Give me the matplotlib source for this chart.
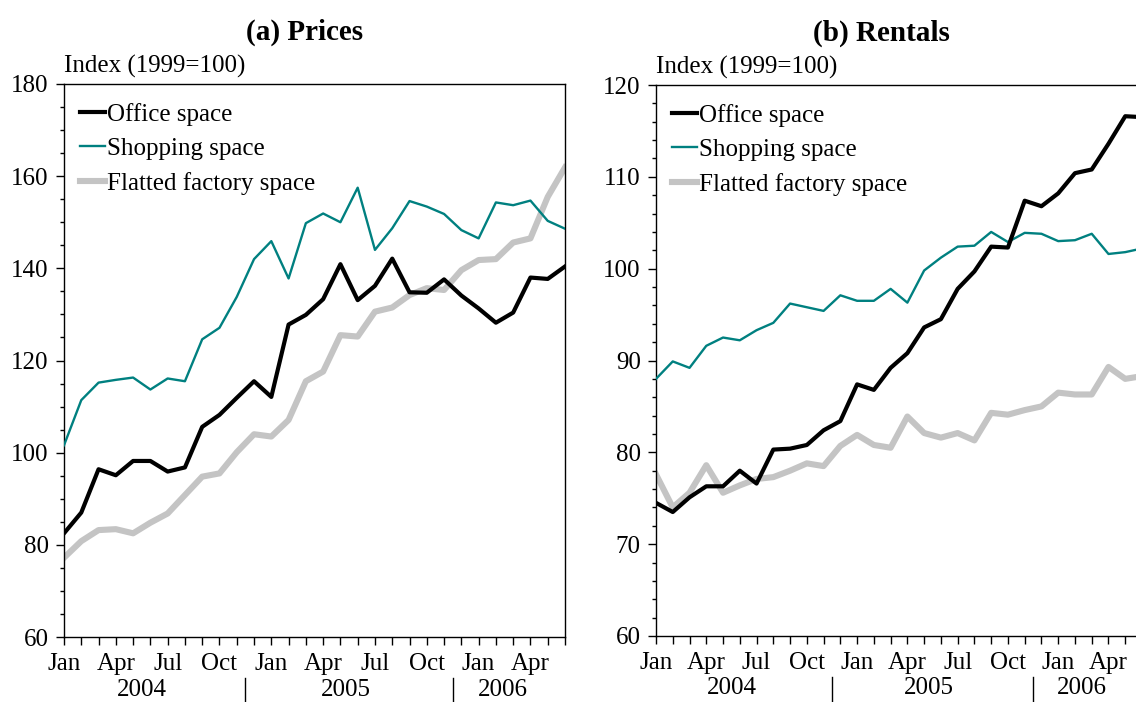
import numpy as np
import matplotlib
matplotlib.use("Agg")
import matplotlib.pyplot as plt
from matplotlib.ticker import MultipleLocator, FixedLocator

matplotlib.rcParams['font.family'] = ['Liberation Serif', 'DejaVu Serif']
matplotlib.rcParams['font.size'] = 18

# monthly data, Jan 2004 - Jun 2006
month_names = ["Jan", "Apr", "Jul", "Oct"]
years = ["2004", "2005", "2006"]

prices_office = [82.5, 87.0, 96.4, 95.1, 98.2, 98.2, 95.9, 96.8, 105.6, 108.2,
                 111.9, 115.5, 112.1, 127.8, 129.9, 133.3, 140.9, 133.1, 136.2, 142.1,
                 134.8, 134.7, 137.6, 134.1, 131.3, 128.2, 130.4, 138.0, 137.7, 140.4]
prices_shopping = [101.6, 111.4, 115.2, 115.8, 116.3, 113.7, 116.1, 115.5, 124.6, 127.1,
                   133.8, 142.0, 145.9, 137.8, 149.8, 151.9, 150.0, 157.5, 144.0, 148.7,
                   154.6, 153.4, 151.8, 148.3, 146.5, 154.3, 153.7, 154.7, 150.3, 148.6]
prices_factory = [77.2, 80.8, 83.2, 83.4, 82.5, 84.8, 86.8, 90.8, 94.8, 95.5,
                  100.1, 104.0, 103.5, 107.1, 115.5, 117.6, 125.5, 125.2, 130.6, 131.5,
                  134.2, 135.7, 135.3, 139.6, 141.8, 142.0, 145.6, 146.5, 155.5, 161.9]

rent_office = [74.5, 73.5, 75.1, 76.3, 76.3, 78.0, 76.6, 80.3, 80.4, 80.8,
               82.4, 83.4, 87.4, 86.8, 89.2, 90.8, 93.6, 94.5, 97.8, 99.7,
               102.4, 102.3, 107.4, 106.8, 108.2, 110.4, 110.8, 113.6, 116.6, 116.5]
rent_shopping = [88.0, 89.9, 89.2, 91.6, 92.5, 92.2, 93.3, 94.1, 96.2, 95.8,
                 95.4, 97.1, 96.5, 96.5, 97.8, 96.3, 99.8, 101.2, 102.4, 102.5,
                 104.0, 102.9, 103.9, 103.8, 103.0, 103.1, 103.8, 101.6, 101.8, 102.2]
rent_factory = [77.6, 74.0, 75.6, 78.6, 75.6, 76.4, 77.1, 77.3, 78.0, 78.8,
                78.5, 80.7, 81.9, 80.8, 80.5, 83.9, 82.1, 81.6, 82.1, 81.3,
                84.3, 84.1, 84.6, 85.0, 86.5, 86.3, 86.3, 89.3, 88.0, 88.3]

t = np.arange(len(prices_office))

TEAL = "#008080"
GREY = "#c4c4c4"

fig = plt.figure(figsize=(11.36, 7.02), dpi=100)
ax1 = fig.add_axes([64/1136, 65/702, 501/1136, 553/702])
ax2 = fig.add_axes([656/1136, 66/702, 486/1136, 551/702])


def draw_panel(ax, office, shopping, factory, title, title_x, ylim, major, minor):
    l3, = ax.plot(t, factory, color=GREY, lw=4.4, zorder=2)
    l2, = ax.plot(t, shopping, color=TEAL, lw=1.7, zorder=3)
    l1, = ax.plot(t, office, color="black", lw=3.0, zorder=4)
    ax.legend([l1, l2, l3], ["Office space", "Shopping space", "Flatted factory space"],
              loc="upper left", bbox_to_anchor=(0.032, 0.966), frameon=False,
              borderpad=0, borderaxespad=0, handlelength=1.0, handletextpad=0.08,
              labelspacing=0.47)

    ax.set_xlim(0, 29)
    ax.set_ylim(*ylim)
    ax.yaxis.set_major_locator(MultipleLocator(major))
    ax.yaxis.set_minor_locator(MultipleLocator(minor))
    ax.tick_params(axis="y", which="major", direction="out", length=6, width=1, pad=5)
    ax.tick_params(axis="y", which="minor", direction="out", length=3, width=1)

    # a tick every month, labels every quarter
    ax.xaxis.set_major_locator(FixedLocator(np.arange(0, 30, 3)))
    ax.xaxis.set_minor_locator(FixedLocator(np.arange(0, 30, 1)))
    ax.set_xticklabels([month_names[i % 4] for i in range(10)])
    ax.tick_params(axis="x", which="both", direction="out", length=5.5, width=1, pad=6)

    for sp in ax.spines.values():
        sp.set_linewidth(1.0)

    # year labels and separators below the month labels
    trans = ax.get_xaxis_transform()
    for x, yr in zip([4.5, 16.3, 25.4], years):
        ax.text(x, -0.095, yr, transform=trans, ha="center", va="center")
    for x in [10.5, 22.5]:
        ax.plot([x, x], [-0.074, -0.13], transform=trans, color="black", lw=1,
                clip_on=False)

    ax.annotate("Index (1999=100)", xy=(0, 1), xycoords="axes fraction",
                xytext=(0, 8), textcoords="offset points", ha="left", va="baseline")
    ax.set_title(title, fontsize=21, fontweight="bold", x=title_x, pad=32)


draw_panel(ax1, prices_office, prices_shopping, prices_factory,
           "(a) Prices", 0.48, (60, 180), 20, 5)
draw_panel(ax2, rent_office, rent_shopping, rent_factory,
           "(b) Rentals", 0.463, (60, 120), 10, 2)

fig.savefig("out.png", dpi=100)
